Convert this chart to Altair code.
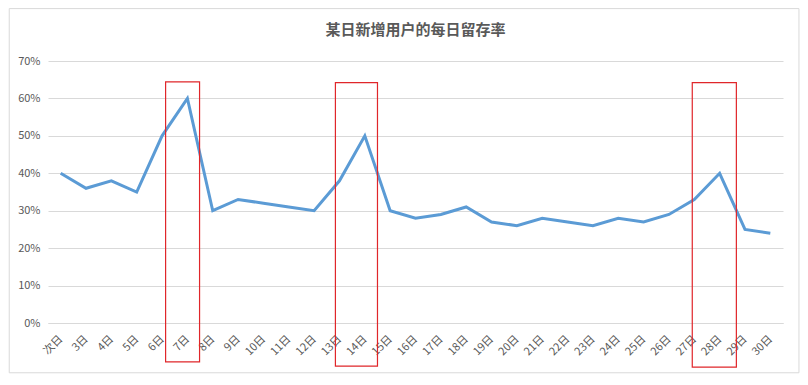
import altair as alt
import pandas as pd

days = ["次日"] + [f"{d}日" for d in range(3, 31)]
retention = [0.40, 0.36, 0.38, 0.35, 0.50, 0.60, 0.30, 0.33, 0.32, 0.31,
             0.30, 0.38, 0.50, 0.30, 0.28, 0.29, 0.31, 0.27, 0.26, 0.28,
             0.27, 0.26, 0.28, 0.27, 0.29, 0.33, 0.40, 0.25, 0.24]

# highlight boxes (category index units / value units)
box_x1 = [4.14, 10.84, 24.92]
box_x2 = [5.48, 12.50, 26.66]
box_top = [0.644, 0.642, 0.642]
box_bottom = [-0.104, -0.115, -0.118]

# outer chart frame (same units)
frame_x1 = [-2.03]
frame_x2 = [29.13]
frame_top = [0.84]
frame_bottom = [-0.133]

df = pd.DataFrame({"idx": list(range(len(days))), "day": days, "rate": retention})
boxes = pd.DataFrame({"x1": box_x1, "x2": box_x2, "y1": box_top, "y2": box_bottom})
frame = pd.DataFrame({"x1": frame_x1, "x2": frame_x2, "y1": frame_top, "y2": frame_bottom})

label_expr = "[" + ",".join(f"'{d}'" for d in days) + "][datum.value]"

FONT = "Noto Sans CJK SC"
GRAY = "#595959"

x_scale = alt.Scale(domain=[-0.5, len(days) - 0.5], nice=False, zero=False)
y_scale = alt.Scale(domain=[0, 0.7], nice=False)

x_axis = alt.Axis(title=None, values=list(range(len(days))), labelExpr=label_expr,
                  labelAngle=-45, labelFontSize=11, labelColor=GRAY, labelFont=FONT,
                  labelBaseline="middle", labelAlign="right",
                  ticks=False, domain=True, domainColor="#D9D9D9", grid=False,
                  labelPadding=14, labelOverlap=False, labelBound=False, labelFlush=False)
y_axis = alt.Axis(title=None, values=[0, 0.1, 0.2, 0.3, 0.4, 0.5, 0.6, 0.7], format=".0%",
                  labelFontSize=11, labelColor=GRAY, labelFont=FONT, labelOverlap=False,
                  labelFlush=False, ticks=False, domain=False, gridColor="#D9D9D9",
                  labelPadding=8)

frame_layer = alt.Chart(frame).mark_rect(fill=None, stroke="#D9D9D9", strokeWidth=1).encode(
    x=alt.X("x1:Q", scale=x_scale, axis=x_axis),
    x2="x2:Q",
    y=alt.Y("y1:Q", scale=y_scale, axis=y_axis),
    y2="y2:Q",
)

line = alt.Chart(df).mark_line(color="#5B9BD5", strokeWidth=3).encode(
    x=alt.X("idx:Q", scale=x_scale, axis=x_axis),
    y=alt.Y("rate:Q", scale=y_scale, axis=y_axis),
)

rects = alt.Chart(boxes).mark_rect(fill=None, stroke="#E0262A", strokeWidth=1.2).encode(
    x=alt.X("x1:Q", scale=x_scale, axis=x_axis),
    x2="x2:Q",
    y=alt.Y("y1:Q", scale=y_scale, axis=y_axis),
    y2="y2:Q",
)

chart = alt.layer(frame_layer, line, rects).properties(
    width=735, height=262,
    autosize=alt.AutoSizeParams(type="none"),
    padding={"left": 40, "top": 53, "right": 17, "bottom": 54},
    title=alt.TitleParams("某日新增用户的每日留存率", font=FONT, fontSize=15, fontWeight="bold",
                          color=GRAY, anchor="middle", frame="group", offset=-30),
).configure(background="white", view=alt.ViewConfig(stroke=None))

chart.save("out.html", embed_options={"renderer": "svg", "actions": False})
